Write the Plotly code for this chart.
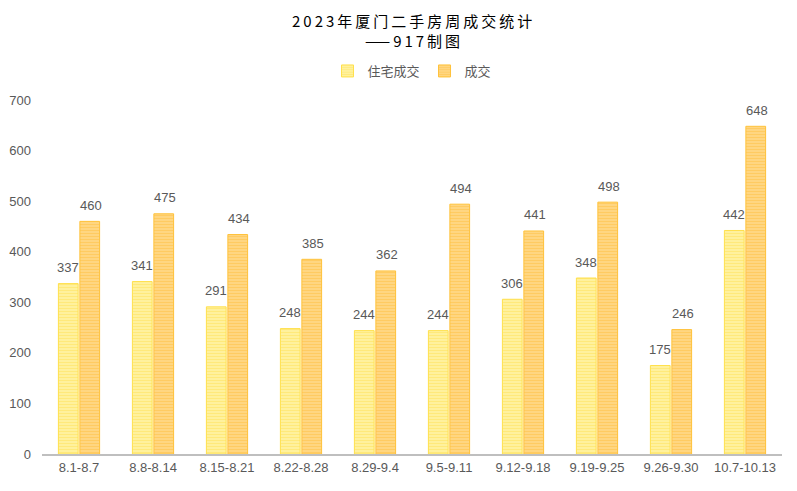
import plotly.graph_objects as go

categories = ["8.1-8.7", "8.8-8.14", "8.15-8.21", "8.22-8.28", "8.29-9.4", "9.5-9.11",
              "9.12-9.18", "9.19-9.25", "9.26-9.30", "10.7-10.13"]
residential = [337, 341, 291, 248, 244, 244, 306, 348, 175, 442]
total = [460, 475, 434, 385, 362, 494, 441, 498, 246, 648]
y_ticks = [0, 100, 200, 300, 400, 500, 600, 700]
title_lines = ["2023年厦门二手房周成交统计", "——917制图"]

# page has an 8px body margin, so the figure is 8px smaller and shifted
W, H = 789, 483
ml, mr, mt, mb = 34, 15, 92, 37
pw, ph = W - ml - mr, H - mt - mb
label_font = dict(color="#595959", size=13, family="Arial")

fig = go.Figure()
fig.add_trace(go.Bar(
    x=categories, y=residential, name="住宅成交",
    marker=dict(color="#FFF09A", line=dict(color="#FFE04D", width=1),
                pattern=dict(shape="-", fgcolor="#FFE04D", bgcolor="#FFF3A8", size=3, solidity=0.5)),
))
fig.add_trace(go.Bar(
    x=categories, y=total, name="成交",
    marker=dict(color="#FFD47A", line=dict(color="#FFC23A", width=1),
                pattern=dict(shape="-", fgcolor="#FFBE3A", bgcolor="#FFD98A", size=3, solidity=0.5)),
))

annotations = []
for c, v in zip(categories, residential):
    annotations.append(dict(x=c, y=v, xref="x", yref="y", text=str(v), showarrow=False,
                            xshift=-11.5, yshift=16, font=label_font))
for c, v in zip(categories, total):
    annotations.append(dict(x=c, y=v, xref="x", yref="y", text=str(v), showarrow=False,
                            xshift=11.5, yshift=16, font=label_font))


def spaced(t):
    out = ""
    for i, ch in enumerate(t):
        out += ch
        if i < len(t) - 1 and not (ch == "—" and t[i + 1] == "—"):
            out += "\u2009"
    return out


title_y = [12, 33]
for t, ty in zip(title_lines, title_y):
    annotations.append(dict(x=0.5, xref="paper", y=1 + (mt - ty) / ph, yref="paper",
                            text=spaced(t), showarrow=False, xanchor="center", yanchor="middle",
                            font=dict(size=15, color="#000000", family="Noto Sans CJK SC, Arial")))

fig.update_layout(
    width=W, height=H,
    margin=dict(l=ml, r=mr, t=mt, b=mb, autoexpand=False),
    paper_bgcolor="white", plot_bgcolor="white",
    legend=dict(orientation="h", x=0.5, xanchor="center", y=1.0 + 29 / ph, yanchor="middle",
                font=dict(size=13, color="#595959", family="Noto Sans CJK SC, Arial"),
                itemwidth=30, traceorder="normal"),
    bargap=0.42, bargroupgap=0.08,
    xaxis=dict(showgrid=False, showline=True, linecolor="#BFBFBF", linewidth=2,
               ticks="", automargin=False,
               tickfont=dict(size=13, color="#595959", family="Arial")),
    yaxis=dict(range=[0, 700], tickvals=y_ticks, showgrid=False, zeroline=False,
               showline=False, automargin=False,
               tickfont=dict(size=13, color="#595959", family="Arial"),
               ticklabelstandoff=10),
    font=dict(family="Arial"),
    annotations=annotations,
)

fig.write_html("out.html")
